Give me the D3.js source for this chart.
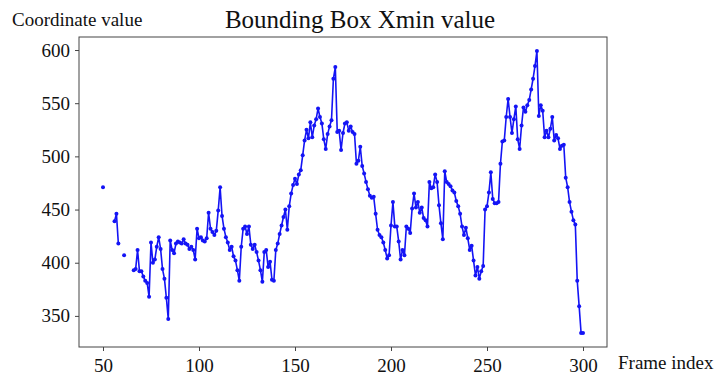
<!DOCTYPE html>
<html>
<head>
<meta charset="utf-8">
<script src="https://cdn.jsdelivr.net/npm/d3@7"></script>
<style>
  html, body { margin: 0; padding: 0; background: #fff; }
  svg { display: block; }
  text { font-family: "Liberation Serif", "Times New Roman", serif; fill: #111; }
</style>
</head>
<body>
<svg id="chart" width="715" height="377"></svg>
<script>
// First frame of the series; one value per frame after it (null = box not detected)
const startFrame = 50;
const xminValues = [
  471, null, null, null, null, null, 439, 446, 418, null,
  null, 407, null, null, null, null, 393, 394, 412, 392,
  392, 387, 383, 381, 368, 419, 400, 403, 415, 424,
  413, 394, 385, 367, 347, 421, 412, 409, 418, 420,
  419, 418, 422, 418, 417, 413, 415, 412, 403, 432,
  423, 424, 421, 420, 423, 447, 432, 429, 426, 430,
  449, 471, 444, 432, 424, 419, 412, 415, 406, 402,
  393, 383, 415, 432, 434, 427, 434, 417, 413, 417,
  410, 402, 393, 382, 410, 412, 396, 401, 384, 383,
  412, 418, 427, 435, 443, 450, 431, 453, 465, 473,
  479, 474, 483, 487, 501, 515, 525, 517, 532, 518,
  529, 535, 545, 537, 531, 516, 507, 521, 528, 534,
  573, 584, 523, 524, 506, 522, 531, 532, 524, 528,
  523, 521, 493, 496, 509, 491, 484, 476, 469, 463,
  461, 462, 446, 431, 426, 424, 419, 412, 404, 407,
  435, 457, 434, 434, 420, 403, 412, 407, 434, 432,
  428, 451, 465, 452, 457, 447, 452, 442, 440, 434,
  476, 470, 471, 483, 476, 454, 437, 422, 486, 476,
  474, 472, 468, 466, 458, 453, 446, 434, 426, 433,
  423, 412, 416, 402, 388, 396, 385, 392, 397, 450,
  453, 466, 485, 460, 456, 456, 457, 493, 514, 515,
  537, 554, 537, 522, 535, 547, 516, 507, 529, 546,
  542, 548, 553, 563, 573, 585, 599, 538, 548, 543,
  518, 524, 518, 526, 537, 515, 520, 517, 507, 510,
  511, 480, 471, 457, 448, 440, 436, 383, 359, 334,
  334
];
const xTickValues = [50, 100, 150, 200, 250, 300];
const yTickValues = [350, 400, 450, 500, 550, 600];

const points = xminValues.map((v, i) => ({ frame: startFrame + i, value: v }));
const valid = points.filter(d => d.value !== null);

const W = 715, H = 377;
const margin = { top: 37, right: 108, bottom: 30, left: 79 };
const plotW = W - margin.left - margin.right;
const plotH = H - margin.top - margin.bottom;

// 5% padding around the data on both axes
function padded(ext) {
  const span = ext[1] - ext[0];
  return [ext[0] - span * 0.05, ext[1] + span * 0.05];
}
const x = d3.scaleLinear()
  .domain(padded(d3.extent(valid, d => d.frame)))
  .range([margin.left, margin.left + plotW]);
const y = d3.scaleLinear()
  .domain(padded(d3.extent(valid, d => d.value)))
  .range([margin.top + plotH, margin.top]);

const svg = d3.select("#chart");

// Plot frame
svg.append("rect")
  .attr("x", margin.left).attr("y", margin.top)
  .attr("width", plotW).attr("height", plotH)
  .attr("fill", "#fff")
  .attr("stroke", "#444").attr("stroke-width", 1);

// Axes
const xAxis = svg.append("g")
  .attr("transform", `translate(0,${margin.top + plotH})`)
  .call(d3.axisBottom(x).tickValues(xTickValues).tickSize(4).tickPadding(5));
const yAxis = svg.append("g")
  .attr("transform", `translate(${margin.left},0)`)
  .call(d3.axisLeft(y).tickValues(yTickValues).tickSize(4).tickPadding(5));
[xAxis, yAxis].forEach(g => {
  g.select(".domain").remove();
  g.selectAll(".tick line").attr("stroke", "#444");
  g.selectAll(".tick text")
    .style("font-family", '"Liberation Serif", "Times New Roman", serif')
    .style("font-size", "19px")
    .attr("fill", "#111");
});
xAxis.selectAll(".tick text").attr("dy", "0.85em");

// Series line (breaks where frames are missing) and point markers
const line = d3.line()
  .defined(d => d.value !== null)
  .x(d => x(d.frame))
  .y(d => y(d.value));

svg.append("path")
  .datum(points)
  .attr("d", line)
  .attr("fill", "none")
  .attr("stroke", "#1414f5")
  .attr("stroke-width", 1.6)
  .attr("stroke-linejoin", "round");

svg.append("g")
  .selectAll("circle")
  .data(valid)
  .join("circle")
  .attr("cx", d => x(d.frame))
  .attr("cy", d => y(d.value))
  .attr("r", 2)
  .attr("fill", "#1414f5");

// Titles and axis labels
svg.append("text")
  .attr("x", 360).attr("y", 28)
  .attr("text-anchor", "middle")
  .style("font-size", "25px")
  .text("Bounding Box Xmin value");

svg.append("text")
  .attr("x", 12).attr("y", 26)
  .style("font-size", "19px")
  .text("Coordinate value");

svg.append("text")
  .attr("x", 618).attr("y", 369)
  .style("font-size", "19px")
  .text("Frame index");
</script>
</body>
</html>
